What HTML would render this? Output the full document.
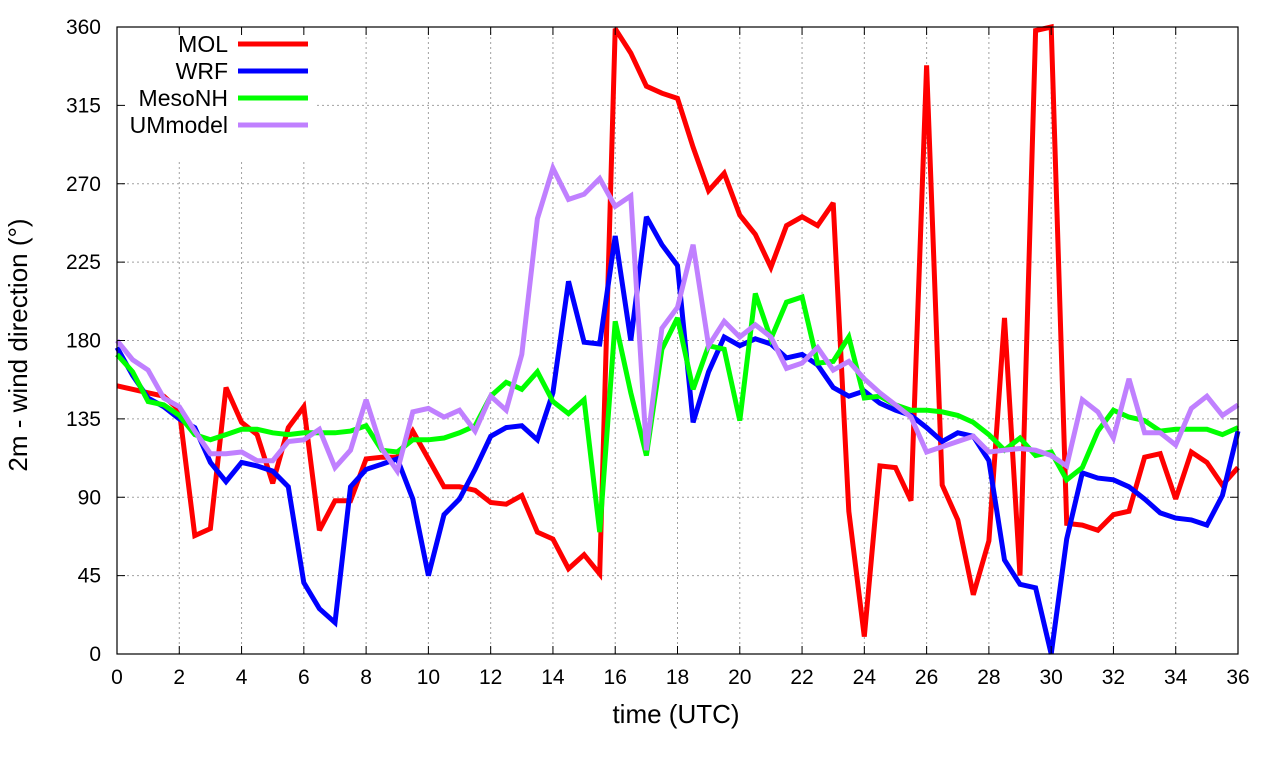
<!DOCTYPE html>
<html><head><meta charset="utf-8"><style>
body{margin:0;background:#fff;}
svg text{font-family:"Liberation Sans",sans-serif;fill:#000;}
</style></head><body>
<svg id="chart" width="1280" height="760" xmlns="http://www.w3.org/2000/svg">
<g id="grid"></g>
<g id="series"></g>
<rect x="120" y="29" width="195" height="130" fill="#fff"/>
<g id="legend"></g>
<rect x="117" y="27" width="1121" height="627" fill="none" stroke="#000" stroke-width="1.2"/>
<g id="axes"></g>
<text x="676" y="723" font-size="26" text-anchor="middle">time (UTC)</text>
<text transform="translate(27,345) rotate(-90)" font-size="26" text-anchor="middle">2m - wind direction (°)</text>
</svg>
<script>
const times = Array.from({length:73},(_,i)=>i*0.5);
const xTicks = [0,2,4,6,8,10,12,14,16,18,20,22,24,26,28,30,32,34,36];
const yTicks = [0,45,90,135,180,225,270,315,360];
const seriesNames = ["MOL","WRF","MesoNH","UMmodel"];
const seriesColors = ["#ff0000","#0000ff","#00ff00","#c080ff"];
const mol = [154,152,150,148,140,68,72,153,133,126,98,130,142,71,88,88,112,113,113,128,112,96,96,94,87,86,91,70,66,49,57,46,359,345,326,322,319,291,266,276,252,241,222,246,251,246,259,82,10,108,107,88,338,97,77,34,65,193,45,358,360,75,74,71,80,82,113,115,89,116,110,97,107];
const wrf = [176,160,147,142,135,130,110,99,110,108,105,96,41,26,18,96,106,109,112,89,45,80,89,106,125,130,131,123,150,214,179,178,240,180,251,235,223,133,162,182,177,181,178,170,172,166,153,148,151,144,140,137,130,122,127,125,111,54,40,38,0,66,104,101,100,96,89,81,78,77,74,91,128];
const mesonh = [172,162,145,143,137,126,123,126,129,129,127,126,127,127,127,128,131,117,116,123,123,124,127,131,148,156,152,162,145,138,146,70,191,150,114,175,193,152,177,175,134,207,181,202,205,167,168,182,147,148,143,140,140,139,137,133,126,117,124,114,116,100,107,128,140,136,134,128,129,129,129,126,130];
const umodel = [180,169,163,147,142,128,115,115,116,111,111,122,123,129,107,117,146,118,105,139,141,136,140,128,148,140,172,250,279,261,264,273,257,263,117,187,199,235,177,191,182,189,182,164,167,176,163,168,158,150,143,136,116,119,122,125,116,117,118,117,114,108,146,139,124,158,127,127,120,141,148,137,143];
const allSeries = [mol,wrf,mesonh,umodel];
const X0=117,X1=1238,Y0=654,Y1=27;
const xs=t=>X0+(t/36)*(X1-X0);
const ys=v=>Y0-(v/360)*(Y0-Y1);
const NS="http://www.w3.org/2000/svg";
const grid=document.getElementById('grid'),axes=document.getElementById('axes'),ser=document.getElementById('series'),leg=document.getElementById('legend');
function mk(tag,attrs,parent){const e=document.createElementNS(NS,tag);for(const k in attrs)e.setAttribute(k,attrs[k]);parent.appendChild(e);return e;}
xTicks.forEach(t=>{
  const x=xs(t);
  const g=mk('line',{x1:x,x2:x,y1:Y1,y2:Y0,stroke:'#a0a0a0','stroke-width':1,'stroke-dasharray':'2,3'},grid);
  
  
  mk('line',{x1:x,x2:x,y1:Y0,y2:Y0-8,stroke:'#000'},axes);
  mk('line',{x1:x,x2:x,y1:Y1,y2:Y1+8,stroke:'#000'},axes);
  const tx=mk('text',{x:x,y:Y0+30,'font-size':21,'text-anchor':'middle'},axes);
  tx.textContent=t;
  
  
});
yTicks.forEach(v=>{
  const y=ys(v);
  const g=mk('line',{x1:X0,x2:X1,y1:y,y2:y,stroke:'#a0a0a0','stroke-width':1,'stroke-dasharray':'2,3'},grid);
  
  
  mk('line',{x1:X0,x2:X0+8,y1:y,y2:y,stroke:'#000'},axes);
  mk('line',{x1:X1,x2:X1-8,y1:y,y2:y,stroke:'#000'},axes);
  const tx=mk('text',{x:X0-16,y:y+7,'font-size':21,'text-anchor':'end'},axes);
  tx.textContent=v;
  
  
});
allSeries.forEach((vals,si)=>{
  const pts=vals.map((v,i)=>xs(times[i]).toFixed(1)+','+ys(v).toFixed(1)).join(' ');
  const pl=mk('polyline',{points:pts,fill:'none',stroke:seriesColors[si],'stroke-width':5,'stroke-linejoin':'miter','stroke-miterlimit':3},ser);
  
  
  const ly=44+si*27;
  const t=mk('text',{x:228,y:ly+8,'font-size':23,'text-anchor':'end'},leg);
  t.textContent=seriesNames[si];
  
  
  const l=mk('line',{x1:238,x2:308,y1:ly,y2:ly,stroke:seriesColors[si],'stroke-width':5},leg);
  
  
});
</script>
</body></html>
